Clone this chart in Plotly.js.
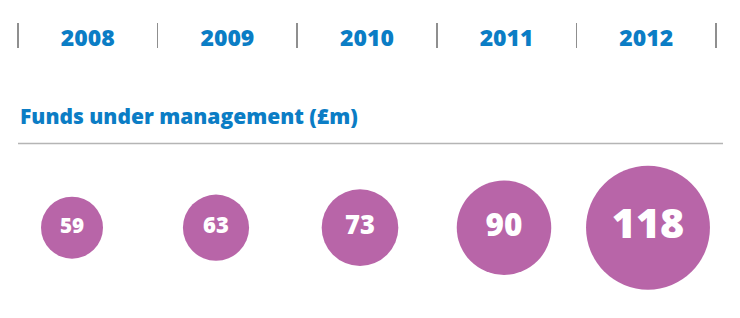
<!DOCTYPE html>
<html>
<head>
<meta charset="utf-8">
<script src="https://cdn.plot.ly/plotly-3.0.1.min.js"></script>
<style>html,body{margin:0;padding:0;background:#fff;}#chart{width:740px;height:318px;}</style>
</head>
<body>
<div id="chart"></div>
<script>
// Data
var years = ["2008", "2009", "2010", "2011", "2012"];
var funds = [59, 63, 73, 90, 118];
var chartTitle = "Funds under management (£m)";

var W = 740, H = 318;
var BLUE = "#0b7dc5", PURPLE = "#b865a8", GREY = "#8f8f8f";
var FONT = "'Open Sans', Lato, sans-serif";
function py(px) { return 1 - px / H; }

var idx = years.map(function (_, i) { return i; });
var pad = 2 / 139.5;

var yearTrace = {
  type: "scatter", mode: "text", xaxis: "x", yaxis: "y",
  x: idx, y: years.map(function () { return 0.33; }),
  text: years, textposition: "middle center",
  textfont: { family: FONT, size: 23, color: BLUE, weight: 800 },
  hoverinfo: "skip", showlegend: false
};

var bubbleTrace = {
  type: "scatter", mode: "markers+text", xaxis: "x2", yaxis: "y2",
  x: idx, y: funds.map(function () { return 0; }),
  text: funds.map(String), textposition: "middle center",
  textfont: { family: FONT, size: funds.map(function (v) { return v * 0.35; }), color: "#ffffff", weight: 800 },
  marker: { size: funds.map(function (v) { return v * 1.05; }), sizemode: "diameter", color: PURPLE, line: { width: 0 }, opacity: 1 },
  hoverinfo: "skip", showlegend: false, cliponaxis: false
};

var layout = {
  width: W, height: H,
  margin: { l: 0, r: 0, t: 0, b: 0, pad: 0 },
  paper_bgcolor: "#ffffff", plot_bgcolor: "rgba(0,0,0,0)",
  showlegend: false,
  xaxis: {
    domain: [16 / W, 718 / W], range: [-0.5 - pad, years.length - 0.5 + pad],
    tickmode: "array", tickvals: idx.concat([years.length]).map(function (i) { return i - 0.5; }),
    showticklabels: false, ticks: "", showgrid: true, gridcolor: GREY, gridwidth: 1.5,
    zeroline: false, showline: false, fixedrange: true
  },
  yaxis: {
    domain: [py(48), py(23)], range: [0, 1],
    showticklabels: false, showgrid: false, zeroline: false, showline: false, ticks: "", fixedrange: true
  },
  xaxis2: {
    domain: [0, 720 / W], range: [-0.5, years.length - 0.5], anchor: "y2",
    showticklabels: false, showgrid: false, zeroline: false, showline: false, ticks: "", fixedrange: true
  },
  yaxis2: {
    domain: [py(297.7), py(157.7)], range: [-1, 1], anchor: "x2",
    showticklabels: false, showgrid: false, zeroline: false, showline: false, ticks: "", fixedrange: true
  },
  annotations: [{
    xref: "paper", yref: "paper", x: 18 / W, y: py(116), xanchor: "left", yanchor: "middle",
    text: chartTitle, showarrow: false,
    font: { family: FONT, size: 21, color: BLUE, weight: 800 }
  }],
  shapes: [{
    type: "line", xref: "paper", yref: "paper",
    x0: 18 / W, x1: 723 / W, y0: py(143.5), y1: py(143.5),
    line: { color: "#b5b5b5", width: 1.5 }
  }]
};

Plotly.newPlot("chart", [yearTrace, bubbleTrace], layout, { displayModeBar: false, staticPlot: true });
</script>
</body>
</html>
